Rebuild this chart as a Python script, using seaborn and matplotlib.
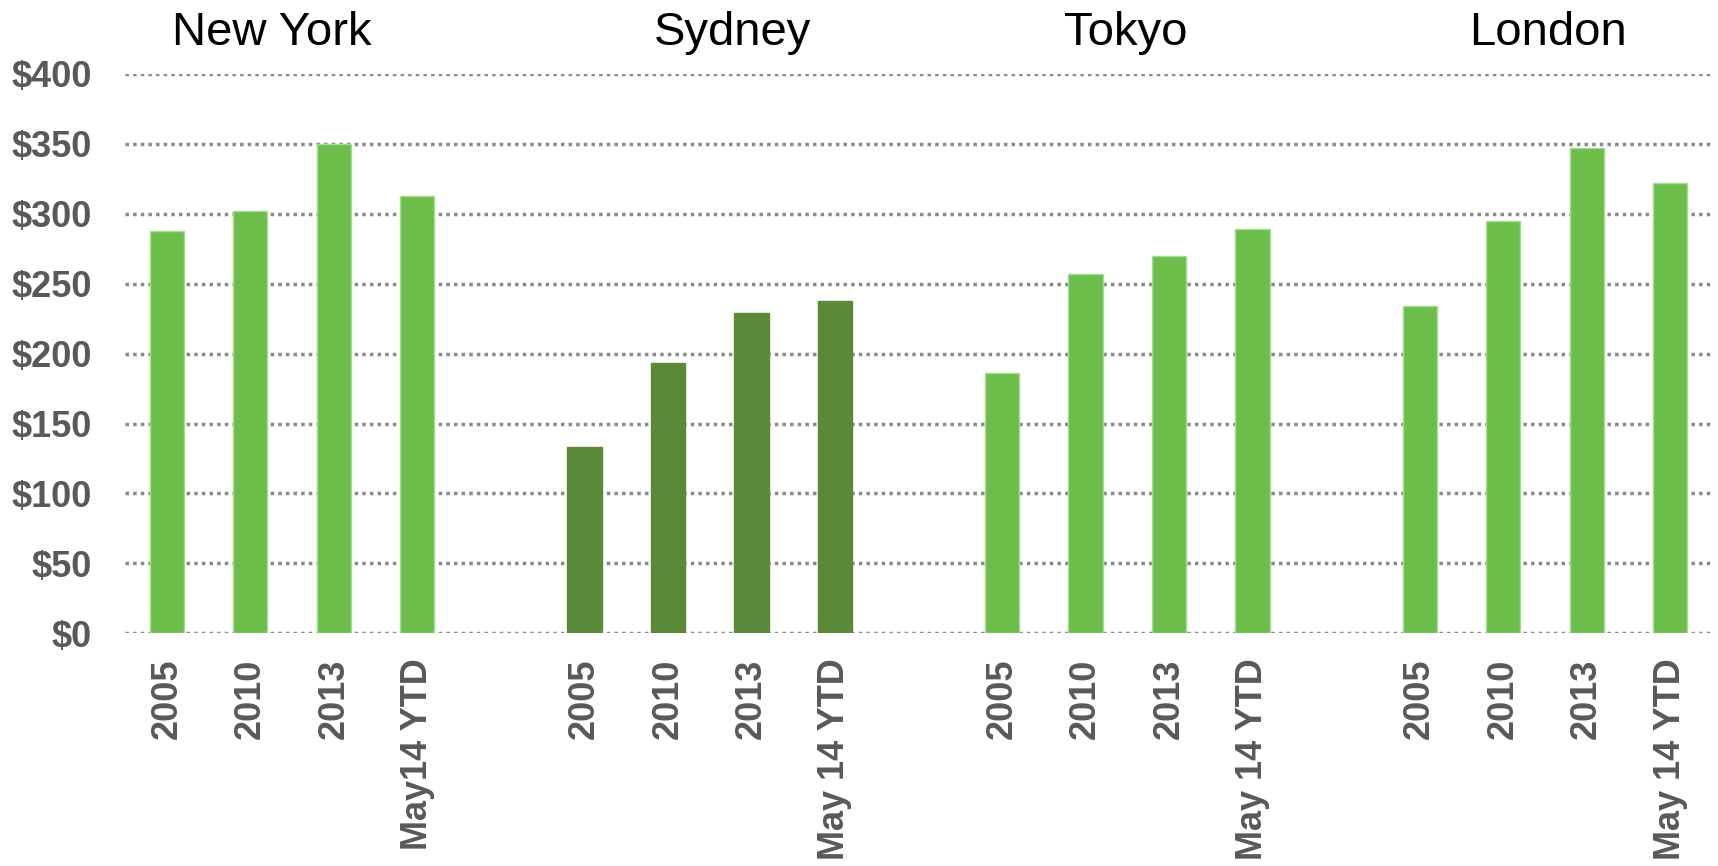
import matplotlib
matplotlib.use("Agg")
import matplotlib.pyplot as plt
import matplotlib.transforms as mtransforms
import seaborn as sns
import pandas as pd

# Average daily rate by city and period
cities = ["New York", "Sydney", "Tokyo", "London"]
periods = {
    "New York": ["2005", "2010", "2013", "May14 YTD"],
    "Sydney": ["2005", "2010", "2013", "May 14 YTD"],
    "Tokyo": ["2005", "2010", "2013", "May 14 YTD"],
    "London": ["2005", "2010", "2013", "May 14 YTD"],
}
new_york = [288, 302, 350, 313]
sydney = [133, 193, 229, 238]
tokyo = [186, 257, 270, 289]
london = [234, 295, 347, 322]
values = {"New York": new_york, "Sydney": sydney, "Tokyo": tokyo, "London": london}

y_ticks = [0, 50, 100, 150, 200, 250, 300, 350, 400]
city_colors = {"New York": "#6cbe4b", "Sydney": "#5a8a37", "Tokyo": "#6cbe4b", "London": "#6cbe4b"}

rows = []
order = []
tick_labels = []
for i, city in enumerate(cities):
    for p, v in zip(periods[city], values[city]):
        key = f"{city}|{p}"
        rows.append({"slot": key, "city": city, "rate": v})
        order.append(key)
        tick_labels.append(p)
    if i < len(cities) - 1:
        # empty category separating city groups
        order.append(" " * (i + 1))
        tick_labels.append("")
df = pd.DataFrame(rows)

sns.set_theme(style="white")
plt.rcParams["font.family"] = ["Liberation Sans", "DejaVu Sans"]

fig = plt.figure(figsize=(17.18, 8.66), dpi=100)
ax = fig.add_axes([125 / 1718, 1 - 633.3 / 866, (1712 - 125) / 1718, (633.3 - 74) / 866])

sns.barplot(data=df, x="slot", y="rate", hue="city", order=order,
            palette=city_colors, dodge=False, width=0.41, legend=False,
            saturation=1, linewidth=1, ax=ax)

# thin light outline on the bright bars
for patch in ax.patches:
    fc = matplotlib.colors.to_hex(patch.get_facecolor())
    patch.set_edgecolor("#5a8a37" if fc == "#5a8a37" else "#a6db92")

ax.set_ylim(0, 400)
ax.set_xlim(-0.5, len(order) - 0.5)
ax.set_yticks(y_ticks)
ax.set_yticklabels([f"${t}" for t in y_ticks], fontsize=26, fontweight="bold", color="#595959")
ax.set_xticks(range(len(order)))
ax.set_xticklabels(tick_labels, rotation=90, fontsize=26, fontweight="bold",
                   color="#595959", va="top", ha="center")
ax.tick_params(axis="y", length=0, pad=24)
ax.tick_params(axis="x", length=0, pad=18)
ax.set_xlabel("")
ax.set_ylabel("")
for s in ax.spines.values():
    s.set_visible(False)

ax.set_axisbelow(True)
ax.yaxis.grid(True, color="#8a8a8a", linewidth=2.5, linestyle=(0, (1, 1.2)))
ax.xaxis.grid(False)
ax.patch.set_alpha(0)

# city headings above each group
title_x = [1.26, 6.77, 11.48, 16.54]
trans = mtransforms.blended_transform_factory(ax.transData, fig.transFigure)
for city, x in zip(cities, title_x):
    ax.text(x, 1 - 45 / 866, city, transform=trans, ha="center", va="baseline",
            fontsize=34, color="black")

fig.savefig("out.png", dpi=100)
